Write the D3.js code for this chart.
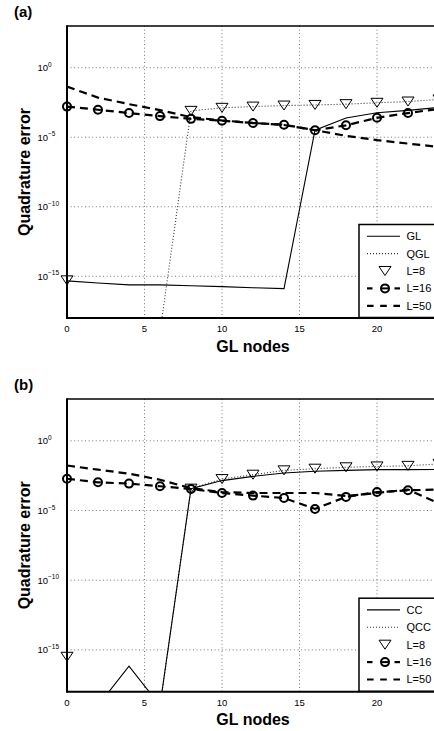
<!DOCTYPE html>
<html>
<head>
<meta charset="utf-8">
<script src="https://cdn.jsdelivr.net/npm/d3@7"></script>
<style>
  body { margin: 0; background: #fff; }
  svg { display: block; font-family: "Liberation Sans", Arial, sans-serif; }
</style>
</head>
<body>
<svg width="434" height="731"></svg>
<script>
(function () {
    'use strict';

    // nodes (x) shared by every series
    var nodes = [0, 2, 4, 6, 8, 10, 12, 14, 16, 18, 20, 22, 24];
    var xTicks = [0, 5, 10, 15, 20];
    var yTicks = [0, -5, -10, -15];   // exponents of 10

    // panel (a)
    var glErr   = [4.7e-16, 3.3e-16, 2.4e-16, 2.4e-16, 2.1e-16, 1.8e-16, 1.5e-16, 1.3e-16, 3.2e-5, 2.4e-4, 5.8e-4, 8.5e-4, 1.4e-3];
    var qglErr  = [5.1e-16, null, null, 1e-19, 7.9e-4, 1.3e-3, 1.6e-3, 1.9e-3, 2.1e-3, 2.4e-3, 3.0e-3, 3.7e-3, 5.2e-3];
    var a16Err  = [1.6e-3, 9.5e-4, 5.5e-4, 3.3e-4, 2.1e-4, 1.55e-4, 1.05e-4, 7.9e-5, 3.2e-5, 7.2e-5, 2.5e-4, 5.5e-4, 1.1e-3];
    var a50Err  = [4.4e-2, 7.1e-3, 2.4e-3, 8.9e-4, 2.8e-4, 1.6e-4, 1.07e-4, 7.6e-5, 3.2e-5, 1.26e-5, 6.2e-6, 3.5e-6, 2.0e-6];

    // panel (b)
    var ccErr   = [null, 1e-19, 6.9e-17, 1e-19, 3.7e-4, 1.4e-3, 2.8e-3, 4.9e-3, 6.5e-3, 7.6e-3, 8.5e-3, 8.5e-3, 8.9e-3];
    var qccErr  = [3.2e-16, null, null, 1e-19, 3.7e-4, 1.8e-3, 3.7e-3, 7.6e-3, 1.0e-2, 1.26e-2, 1.45e-2, 1.6e-2, 2.2e-2];
    var b16Err  = [1.9e-3, 1.05e-3, 8.5e-4, 5.5e-4, 3.5e-4, 1.8e-4, 1.17e-4, 7.9e-5, 1.3e-5, 9.5e-5, 2.1e-4, 2.8e-4, 3.2e-4];
    var b50Err  = [1.7e-2, 8.5e-3, 4.4e-3, 1.6e-3, 4.0e-4, 2.1e-4, 1.8e-4, 1.8e-4, 1.8e-4, 1.1e-4, 1.8e-4, 3.2e-4, 3.2e-5];

    var svg = d3.select('svg');

    var left = 67, right = 439;
    var x = d3.scaleLinear().domain([0, 24]).range([left, right]);

    function drawPanel(p) {
        var y = d3.scaleLog().domain([1e-18, 1e3]).range([p.bottom, p.top]);
        var g = svg.append('g');
        var clipId = 'clip' + p.tag;

        g.append('clipPath').attr('id', clipId)
            .append('rect')
            .attr('x', left).attr('y', p.top)
            .attr('width', right - left).attr('height', p.bottom - p.top);

        // grid
        g.selectAll('.gx').data(xTicks.slice(1)).enter().append('line')
            .attr('x1', function (d) { return x(d); })
            .attr('x2', function (d) { return x(d); })
            .attr('y1', p.top).attr('y2', p.bottom)
            .attr('stroke', '#555').attr('stroke-width', 0.8)
            .attr('stroke-dasharray', '1,2.6');
        g.selectAll('.gy').data(yTicks).enter().append('line')
            .attr('x1', left).attr('x2', right)
            .attr('y1', function (d) { return y(Math.pow(10, d)); })
            .attr('y2', function (d) { return y(Math.pow(10, d)); })
            .attr('stroke', '#555').attr('stroke-width', 0.8)
            .attr('stroke-dasharray', '1,2.6');

        var rows = nodes.map(function (n, i) {
            return {n: n, solid: p.solid[i], dotted: p.dotted[i], l16: p.l16[i], l50: p.l50[i]};
        });

        function line(key) {
            return d3.line()
                .defined(function (d) { return d[key] != null; })
                .x(function (d) { return x(d.n); })
                .y(function (d) { return y(d[key]); });
        }

        var plot = g.append('g').attr('clip-path', 'url(#' + clipId + ')');

        plot.append('path').datum(rows).attr('d', line('l50'))
            .attr('fill', 'none').attr('stroke', '#000').attr('stroke-width', 2.2)
            .attr('stroke-dasharray', '8,5');
        plot.append('path').datum(rows).attr('d', line('l16'))
            .attr('fill', 'none').attr('stroke', '#000').attr('stroke-width', 2.2)
            .attr('stroke-dasharray', '8,5');
        plot.append('path').datum(rows).attr('d', line('dotted'))
            .attr('fill', 'none').attr('stroke', '#333').attr('stroke-width', 1.1)
            .attr('stroke-dasharray', '1,2');
        plot.append('path').datum(rows).attr('d', line('solid'))
            .attr('fill', 'none').attr('stroke', '#000').attr('stroke-width', 1.1);

        // markers
        var inRange = function (v) { return v != null && v >= 1e-18 && v <= 1e3; };
        g.selectAll('.tri').data(rows.filter(function (d) { return inRange(d.dotted); }))
            .enter().append('path')
            .attr('d', 'M-6,-4.5L6,-4.5L0,4.5Z')
            .attr('transform', function (d) { return 'translate(' + x(d.n) + ',' + y(d.dotted) + ')'; })
            .attr('fill', 'none').attr('stroke', '#000').attr('stroke-width', 1);
        g.selectAll('.circ').data(rows.filter(function (d) { return inRange(d.l16); }))
            .enter().append('circle')
            .attr('cx', function (d) { return x(d.n); })
            .attr('cy', function (d) { return y(d.l16); })
            .attr('r', 4)
            .attr('fill', 'none').attr('stroke', '#000').attr('stroke-width', 2);

        // axes box
        g.append('line').attr('x1', left).attr('x2', right + 10)
            .attr('y1', p.top).attr('y2', p.top)
            .attr('stroke', '#000').attr('stroke-width', 1.5);
        g.append('line').attr('x1', left).attr('x2', right + 10)
            .attr('y1', p.bottom).attr('y2', p.bottom)
            .attr('stroke', '#000').attr('stroke-width', 2);
        g.append('line').attr('x1', left).attr('x2', left)
            .attr('y1', p.top - 0.75).attr('y2', p.bottom + 1)
            .attr('stroke', '#000').attr('stroke-width', 2);

        // tick labels
        g.selectAll('.xl').data(xTicks).enter().append('text')
            .attr('x', function (d) { return x(d); })
            .attr('y', p.bottom + 14)
            .attr('text-anchor', 'middle')
            .attr('font-size', 9.5)
            .text(function (d) { return d; });
        var yl = g.selectAll('.yl').data(yTicks).enter().append('text')
            .attr('x', 37.5)
            .attr('y', function (d) { return y(Math.pow(10, d)) + 3.5; })
            .attr('font-size', 9.5);
        yl.append('tspan').text('10');
        yl.append('tspan').attr('dy', -4.5).attr('font-size', 6.5)
            .text(function (d) { return d === 0 ? '0' : '\u2212' + (-d); });

        // titles
        g.append('text').attr('x', (left + right) / 2).attr('y', p.bottom + 33.5)
            .attr('text-anchor', 'middle').attr('font-size', 16).attr('font-weight', 'bold')
            .text('GL nodes');
        g.append('text')
            .attr('transform', 'translate(30,' + ((p.top + p.bottom) / 2) + ') rotate(-90)')
            .attr('text-anchor', 'middle').attr('font-size', 16).attr('font-weight', 'bold')
            .text('Quadrature error');
        g.append('text').attr('x', 14).attr('y', p.top - 9)
            .attr('font-size', 15).attr('font-weight', 'bold')
            .text(p.label);

        // legend
        var lg = g.append('g').attr('transform', 'translate(359,' + (p.bottom - 93.5) + ')');
        lg.append('rect').attr('x', 0).attr('y', 0).attr('width', 92).attr('height', 93)
            .attr('fill', '#fff').attr('stroke', '#000').attr('stroke-width', 1.5);
        var items = [
            {name: p.names[0], segs: [[8, 41]], dash: null, w: 1.1, c: '#000'},
            {name: p.names[1], segs: [[8, 41]], dash: '1,2', w: 1.1, c: '#333'},
            {name: 'L=8', marker: 'tri'},
            {name: 'L=16', segs: [[8, 13.5], [35.5, 41]], w: 2.2, c: '#000', marker: 'circ'},
            {name: 'L=50', segs: [[8, 41]], dash: '6.6,6.6', w: 2.2, c: '#000'}
        ];
        items.forEach(function (it, i) {
            var yy = 11.7 + 17.4 * i;
            (it.segs || []).forEach(function (s) {
                lg.append('line').attr('x1', s[0]).attr('x2', s[1]).attr('y1', yy).attr('y2', yy)
                    .attr('stroke', it.c).attr('stroke-width', it.w)
                    .attr('stroke-dasharray', it.dash);
            });
            if (it.marker === 'tri') {
                lg.append('path').attr('d', 'M-6,-4.5L6,-4.5L0,4.5Z')
                    .attr('transform', 'translate(26,' + yy + ')')
                    .attr('fill', 'none').attr('stroke', '#000');
            } else if (it.marker === 'circ') {
                lg.append('circle').attr('cx', 26).attr('cy', yy).attr('r', 4)
                    .attr('fill', 'none').attr('stroke', '#000').attr('stroke-width', 2);
                lg.append('line').attr('x1', 22).attr('x2', 30).attr('y1', yy).attr('y2', yy)
                    .attr('stroke', '#000').attr('stroke-width', 2);
            }
            lg.append('text').attr('x', 47.5).attr('y', yy + 4)
                .attr('font-size', 11).text(it.name);
        });
    }

    drawPanel({tag: 'a', label: '(a)', top: 26, bottom: 318,
        solid: glErr, dotted: qglErr, l16: a16Err, l50: a50Err, names: ['GL', 'QGL']});
    drawPanel({tag: 'b', label: '(b)', top: 399, bottom: 691.7,
        solid: ccErr, dotted: qccErr, l16: b16Err, l50: b50Err, names: ['CC', 'QCC']});
}());
</script>
</body>
</html>
